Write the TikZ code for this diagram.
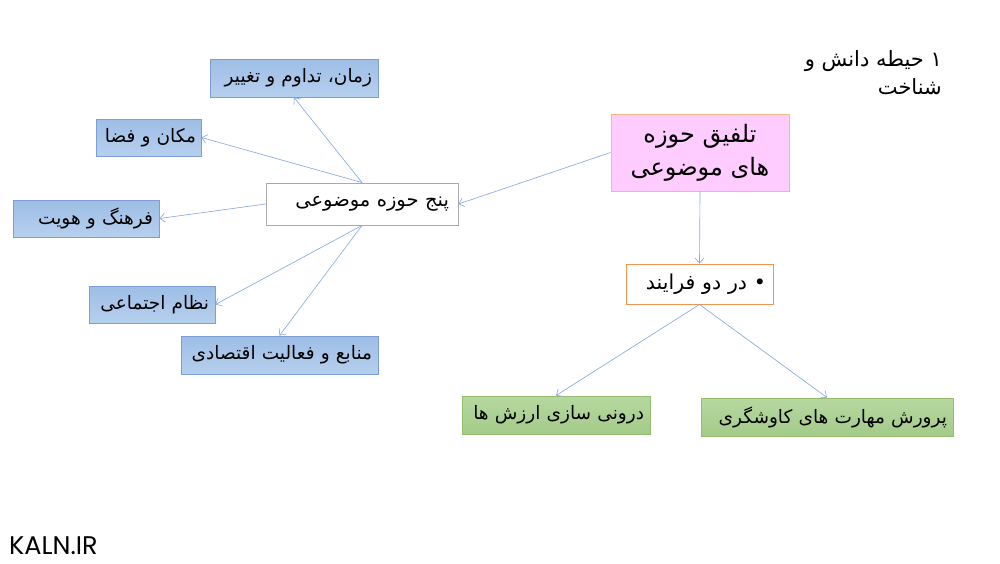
\documentclass[tikz,border=0pt]{standalone}
\usepackage{fontspec}
\usetikzlibrary{arrows.meta}
\TeXXeTstate=1
\newfontfamily\fa[Script=Arabic]{DejaVu Sans}
\newfontfamily\latinf{Poppins}
\definecolor{blueT}{RGB}{158,190,230}
\definecolor{blueB}{RGB}{182,207,238}
\definecolor{bluebd}{RGB}{125,158,210}
\definecolor{greenT}{RGB}{182,216,160}
\definecolor{greenB}{RGB}{164,203,138}
\definecolor{greenbd}{RGB}{150,190,110}
\definecolor{pinkf}{RGB}{255,204,255}
\definecolor{pinkbd}{RGB}{248,185,130}
\definecolor{orangebd}{RGB}{240,150,80}
\definecolor{graybd}{RGB}{170,170,170}
\definecolor{linkc}{RGB}{135,172,222}
\tikzset{
  box/.style={line width=0.9pt, inner sep=0pt, minimum height=38pt, align=right, font=\fa\fontsize{18.5}{22}\selectfont},
  bluebox/.style={box, draw=bluebd, top color=blueT, bottom color=blueB},
  greenbox/.style={box, draw=greenbd, top color=greenT, bottom color=greenB},
  link/.style={draw=linkc, line width=0.65pt, -{Straight Barb[length=5pt,width=9pt]}}
}
\begin{document}
\begin{tikzpicture}[x=1pt,y=-1pt]
\useasboundingbox[fill=white] (0,0) rectangle (1000,563);
% title
\node[anchor=north east, align=right, inner sep=0pt, font=\fa\fontsize{21}{28}\selectfont] (title) at (942,50) {\beginR ۱ حیطه دانش و\endR\\ \beginR شناخت\endR};
% central
\node[draw=pinkbd, fill=pinkf, line width=0.9pt, minimum width=178pt, minimum height=77pt, inner sep=0pt, align=center, font=\fa\fontsize{24}{33}\selectfont] (pink) at (700,152.5) {\beginR تلفیق حوزه\endR\\ \beginR های موضوعی\endR};
\node[box, draw=graybd, fill=white, minimum width=192pt, minimum height=42pt, text width=174pt, font=\fa\fontsize{19.5}{22}\selectfont] (panj) at (362,204) {\beginR پنج حوزه موضوعی\endR};
\node[box, draw=orangebd, fill=white, minimum width=147pt, minimum height=40pt, text width=133pt, font=\fa\fontsize{20.5}{24}\selectfont] (dardo) at (699.5,284) {\beginR • در دو فرایند\endR};
% blue boxes
\node[bluebox, minimum width=168pt, text width=156pt] (zaman) at (294,78) {\beginR زمان، تداوم و تغییر\endR};
\node[bluebox, minimum width=105pt, minimum height=37pt, text width=95pt] (makan) at (148.5,137.5) {\beginR مکان و فضا\endR};
\node[bluebox, minimum width=146pt, minimum height=37pt, text width=134pt] (farhang) at (86,218.5) {\beginR فرهنگ و هویت\endR};
\node[bluebox, minimum width=126pt, minimum height=37pt, text width=114pt] (nezam) at (152,304.5) {\beginR نظام اجتماعی\endR};
\node[bluebox, minimum width=197pt, text width=185pt] (manabe) at (279.5,355) {\beginR منابع و فعالیت اقتصادی\endR};
% green boxes
\node[greenbox, minimum width=188pt, text width=176pt] (g1) at (556,415) {\beginR درونی سازی ارزش ها\endR};
\node[greenbox, minimum width=252pt, text width=240pt] (g2) at (827,417) {\beginR پرورش مهارت های کاوشگری\endR};
% watermark
\node[anchor=west, inner sep=0pt, font=\latinf\fontsize{25.5}{30}\selectfont] (kaln) at (9,546) {KALN.IR};
% links
\draw[link] (pink.west) -- (panj.east);
\draw[link] (pink.south) -- (dardo.north);
\draw[link] (dardo.south) -- (g1.north);
\draw[link] (dardo.south) -- (g2.north);
\draw[link] (panj.north) -- (zaman.south);
\draw[link] (panj.north) -- (makan.east);
\draw[link] (panj.west) -- (farhang.east);
\draw[link] (panj.south) -- (nezam.east);
\draw[link] (panj.south) -- (manabe.north);
\end{tikzpicture}
\end{document}
